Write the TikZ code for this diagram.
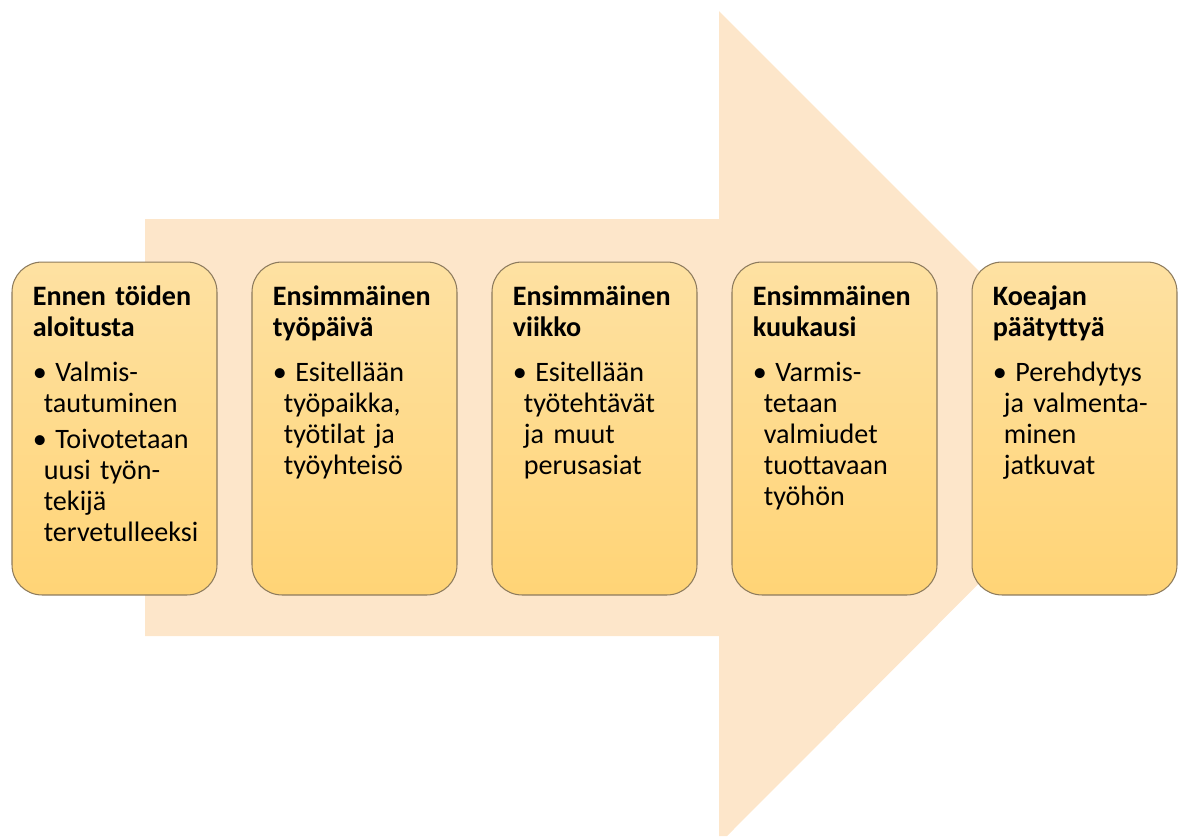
\documentclass[tikz,border=0pt]{standalone}
\usepackage{fontspec}
\setmainfont[Ligatures=NoCommon]{Carlito}

\definecolor{arrowpeach}{RGB}{253,230,202}
\definecolor{boxtop}{RGB}{254,225,162}
\definecolor{boxbottom}{RGB}{255,212,118}
\definecolor{boxline}{RGB}{140,122,92}

% bullet of a phase box, and its continuation lines
\newcommand{\phaseitem}{\par\vspace{3pt}•\hspace{0.3em}}
\newcommand{\nextline}{\newline\hspace*{0.22cm}}

\tikzset{
  phase/.style={draw=boxline, line width=0.6pt, rounded corners=0.6cm,
    top color=boxtop, bottom color=boxbottom,
    minimum width=4.1cm, minimum height=6.66cm, inner sep=0pt},
  phasetext/.style={anchor=north west, inner sep=0pt, text width=3.8cm,
    align=left, font=\fontsize{16}{17.6}\selectfont}
}

\begin{document}
\begin{tikzpicture}[x=0.02cm, y=-0.02cm]
    \useasboundingbox (0,0) rectangle (1181,836);

    % Big arrow behind the boxes
    \fill[arrowpeach] (145,219) -- (719,219) -- (719,11) -- (1135,427)
        -- (727,836) -- (719,836) -- (719,636) -- (145,636) -- cycle;

    % Phase boxes
    \foreach \i in {1,...,5} {
        \node[phase] (box-\i) at (114.5 + 240*\i - 240, 428.5) {};
    }

    % Box texts
    \node[phasetext] (text-1) at ([xshift=0.42cm, yshift=-0.48cm]box-1.north west)
        {{\bfseries Ennen töiden\\aloitusta}\par\vspace{5pt}
         \phaseitem Valmis-\nextline tautuminen
         \phaseitem Toivotetaan\nextline uusi työn-\nextline tekijä\nextline tervetulleeksi};
    \node[phasetext] (text-2) at ([xshift=0.42cm, yshift=-0.48cm]box-2.north west)
        {{\bfseries Ensimmäinen\\työpäivä}\par\vspace{5pt}
         \phaseitem Esitellään\nextline työpaikka,\nextline työtilat ja\nextline työyhteisö};
    \node[phasetext] (text-3) at ([xshift=0.42cm, yshift=-0.48cm]box-3.north west)
        {{\bfseries Ensimmäinen\\viikko}\par\vspace{5pt}
         \phaseitem Esitellään\nextline työtehtävät\nextline ja muut\nextline perusasiat};
    \node[phasetext] (text-4) at ([xshift=0.42cm, yshift=-0.48cm]box-4.north west)
        {{\bfseries Ensimmäinen\\kuukausi}\par\vspace{5pt}
         \phaseitem Varmis-\nextline tetaan\nextline valmiudet\nextline tuottavaan\nextline työhön};
    \node[phasetext] (text-5) at ([xshift=0.42cm, yshift=-0.48cm]box-5.north west)
        {{\bfseries Koeajan\\päätyttyä}\par\vspace{5pt}
         \phaseitem Perehdytys\nextline ja valmenta-\nextline minen\nextline jatkuvat};

\end{tikzpicture}
\end{document}
